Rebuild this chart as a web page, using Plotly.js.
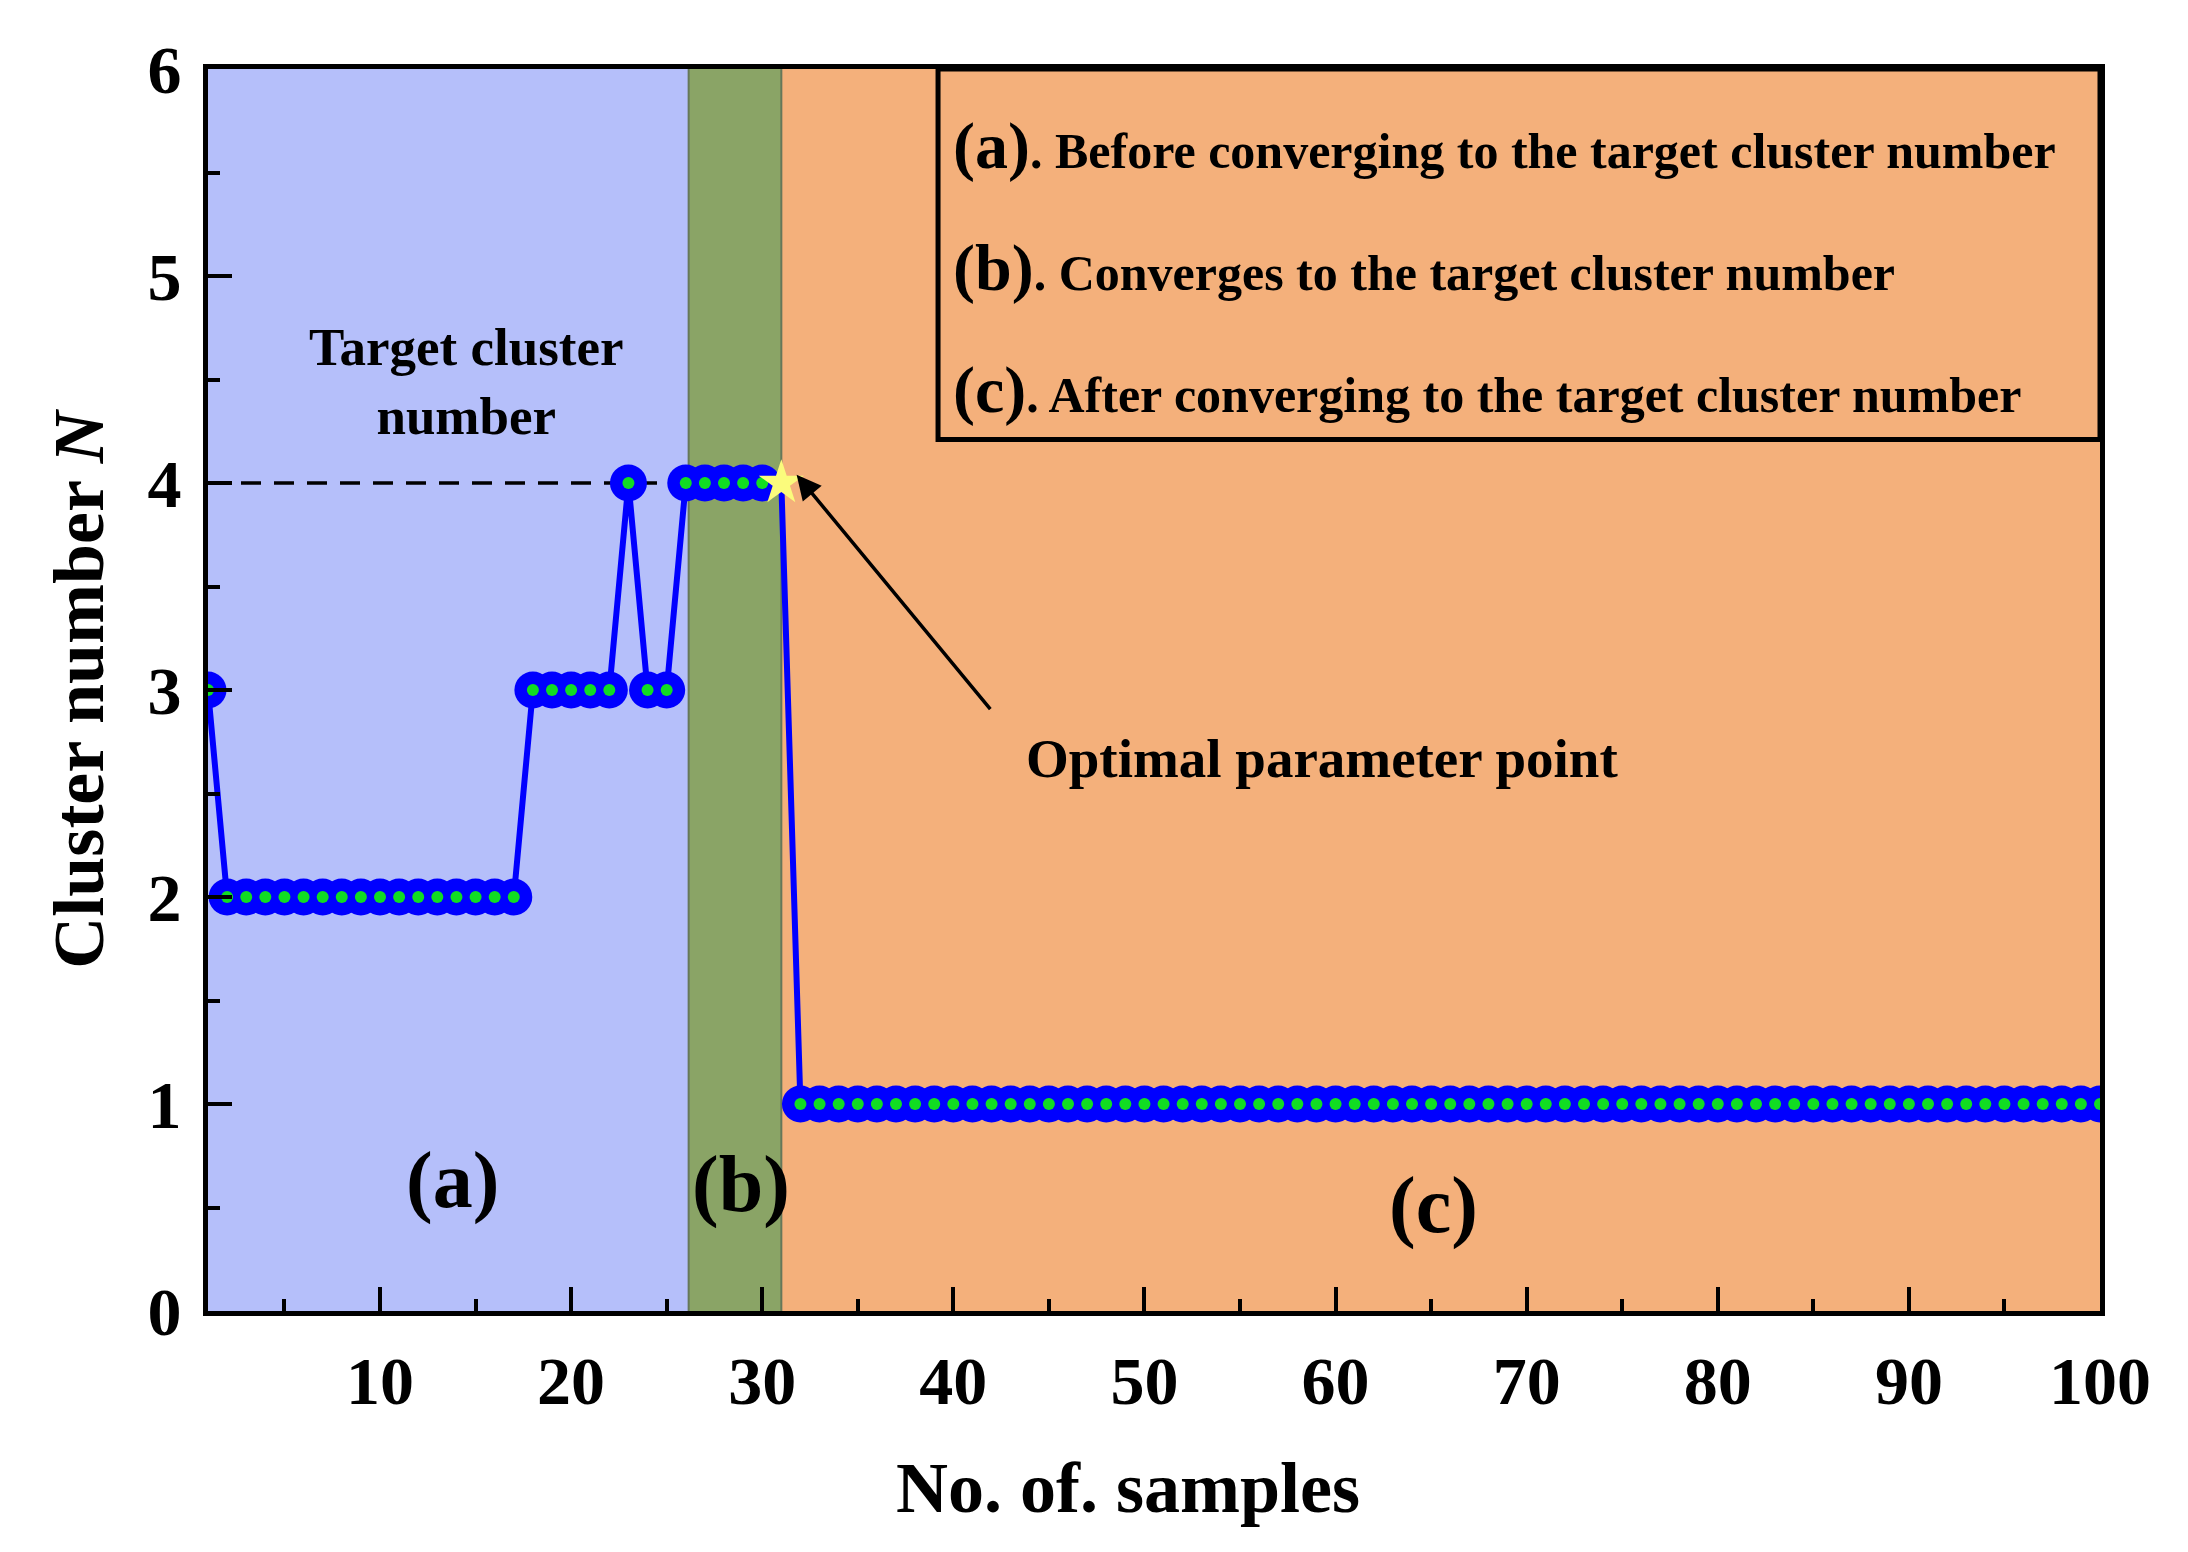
<!DOCTYPE html>
<html>
<head>
<meta charset="utf-8">
<script src="https://cdn.plot.ly/plotly-3.0.1.min.js"></script>
<style>html,body{margin:0;padding:0;background:#fff;}#chart{width:2188px;height:1552px;}</style>
</head>
<body>
<div id="chart"></div>
<script>
// ---- data ----
const sampleNo = [1,2,3,4,5,6,7,8,9,10,11,12,13,14,15,16,17,18,19,20,
  21,22,23,24,25,26,27,28,29,30,31,32,33,34,35,36,37,38,39,40,
  41,42,43,44,45,46,47,48,49,50,51,52,53,54,55,56,57,58,59,60,
  61,62,63,64,65,66,67,68,69,70,71,72,73,74,75,76,77,78,79,80,
  81,82,83,84,85,86,87,88,89,90,91,92,93,94,95,96,97,98,99,100];
const clusterN = [3,2,2,2,2,2,2,2,2,2,2,2,2,2,2,2,2,3,3,3,
  3,3,4,3,3,4,4,4,4,4,4,1,1,1,1,1,1,1,1,1,
  1,1,1,1,1,1,1,1,1,1,1,1,1,1,1,1,1,1,1,1,
  1,1,1,1,1,1,1,1,1,1,1,1,1,1,1,1,1,1,1,1,
  1,1,1,1,1,1,1,1,1,1,1,1,1,1,1,1,1,1,1,1];
const optimalSample = 31;
const targetCluster = 4;
const regionBounds = [1, 26.15, 31, 100];
const regionLabels = ['(a)', '(b)', '(c)'];
const legendLines = [
  ['(a)', 'Before converging to the target cluster number'],
  ['(b)', 'Converges to the target cluster number'],
  ['(c)', 'After converging to the target cluster number']
];
const xTickVals = [10,20,30,40,50,60,70,80,90,100];
const yTickVals = [0,1,2,3,4,5,6];

// ---- derived ----
const FONT = 'Liberation Serif, Times New Roman, serif';
const mx = [], my = [];
sampleNo.forEach((s, i) => { if (s !== optimalSample) { mx.push(s); my.push(clusterN[i]); } });
const optY = clusterN[sampleNo.indexOf(optimalSample)];

const traces = [
  { x: sampleNo, y: clusterN, type: 'scatter', mode: 'lines', line: {color: '#0000ff', width: 6}, hoverinfo: 'skip', showlegend: false },
  { x: mx, y: my, type: 'scatter', mode: 'markers', marker: {color: '#0000ff', size: 37, line: {width: 0}}, showlegend: false },
  { x: mx, y: my, type: 'scatter', mode: 'markers', marker: {color: '#11dd22', size: 12, line: {width: 0}}, showlegend: false },
  { x: [optimalSample], y: [optY], type: 'scatter', mode: 'markers', marker: {symbol: 'star', color: '#fbfb7c', size: 34, line: {width: 0}}, showlegend: false }
];

const regionColors = ['#b5bffa', '#8aa466', '#f4b07b'];
const shapes = [];
for (let i = 0; i < 3; i++) {
  shapes.push({type: 'rect', layer: 'below', xref: 'x', yref: 'y', x0: regionBounds[i], x1: regionBounds[i+1], y0: 0, y1: 6,
    fillcolor: regionColors[i], line: {width: 0}});
}
shapes.push({type: 'line', layer: 'below', xref: 'x', yref: 'y', x0: regionBounds[1], x1: regionBounds[1], y0: 0, y1: 6, line: {color: '#66775a', width: 2}});
shapes.push({type: 'line', layer: 'below', xref: 'x', yref: 'y', x0: regionBounds[2], x1: regionBounds[2], y0: 0, y1: 6, line: {color: '#66775a', width: 2}});
shapes.push({type: 'line', layer: 'below', xref: 'x', yref: 'y', x0: 1, x1: 26, y0: targetCluster, y1: targetCluster, line: {color: '#000', width: 3.5, dash: '20px,13px'}});
// legend box
shapes.push({type: 'rect', layer: 'above', xref: 'x', yref: 'y', x0: 39.2, x1: 100, y0: 4.21, y1: 6, line: {color: '#000', width: 5}});

const annotations = [];
const labelPos = [[13.8, 0.63], [28.9, 0.61], [65.1, 0.51]];
regionLabels.forEach((t, i) => annotations.push({x: labelPos[i][0], y: labelPos[i][1], xref: 'x', yref: 'y', text: t, showarrow: false,
  font: {family: FONT, size: 80, color: '#000', weight: 'bold'}}));
const legY = [5.63, 5.04, 4.45];
legendLines.forEach((l, i) => annotations.push({x: 39.9, y: legY[i], xref: 'x', yref: 'y', xanchor: 'left', showarrow: false,
  text: '<span style="font-size:66px">' + l[0] + '</span>. ' + l[1],
  font: {family: FONT, size: 50, color: '#000', weight: 'bold'}}));
annotations.push({x: 14.5, y: 4.49, xref: 'x', yref: 'y', showarrow: false, text: 'Target cluster<br>number',
  font: {family: FONT, size: 53, color: '#000', weight: 'bold'}});
annotations.push({x: 59.3, y: 2.67, xref: 'x', yref: 'y', showarrow: false, text: 'Optimal parameter point',
  font: {family: FONT, size: 55, color: '#000', weight: 'bold'}});
annotations.push({x: 31.8, y: 4.04, xref: 'x', yref: 'y', ax: 42.0, ay: 2.9, axref: 'x', ayref: 'y', text: '', showarrow: true,
  arrowhead: 2, arrowsize: 1.4, arrowwidth: 3.5, arrowcolor: '#000'});
// x-axis title (placed as annotation for exact position)
annotations.push({x: 0.486, y: -0.176, xref: 'paper', yref: 'paper', showarrow: false, text: 'No. of. samples',
  font: {family: FONT, size: 72, color: '#000', weight: 'bold'}});

const axisCommon = {
  showgrid: false, zeroline: false, showline: true, linecolor: '#000', linewidth: 5, mirror: true,
  ticks: 'inside', ticklen: 24, tickwidth: 4, tickcolor: '#000',
  tickfont: {family: FONT, size: 68, color: '#000', weight: 'bold'}
};

const layout = {
  width: 2188, height: 1552,
  margin: {l: 208, r: 88, t: 69, b: 241},
  paper_bgcolor: '#fff', plot_bgcolor: '#fff',
  showlegend: false,
  xaxis: Object.assign({}, axisCommon, {
    range: [1, 100], tickvals: xTickVals, ticktext: xTickVals.map(String), ticklabelstandoff: 6,
    minor: {dtick: 5, tick0: 5, ticks: 'inside', ticklen: 12, tickwidth: 4, tickcolor: '#000'}
  }),
  yaxis: Object.assign({}, axisCommon, {
    range: [0, 6], tickvals: yTickVals, ticktext: yTickVals.map(String), ticklabelstandoff: 8,
    minor: {dtick: 0.5, tick0: 0, ticks: 'inside', ticklen: 12, tickwidth: 4, tickcolor: '#000'},
    title: {text: 'Cluster number <i>N</i>', font: {family: FONT, size: 72, color: '#000', weight: 'bold'}, standoff: 22}
  }),
  shapes: shapes,
  annotations: annotations
};

Plotly.newPlot('chart', traces, layout, {displayModeBar: false, staticPlot: true});
</script>
</body>
</html>
